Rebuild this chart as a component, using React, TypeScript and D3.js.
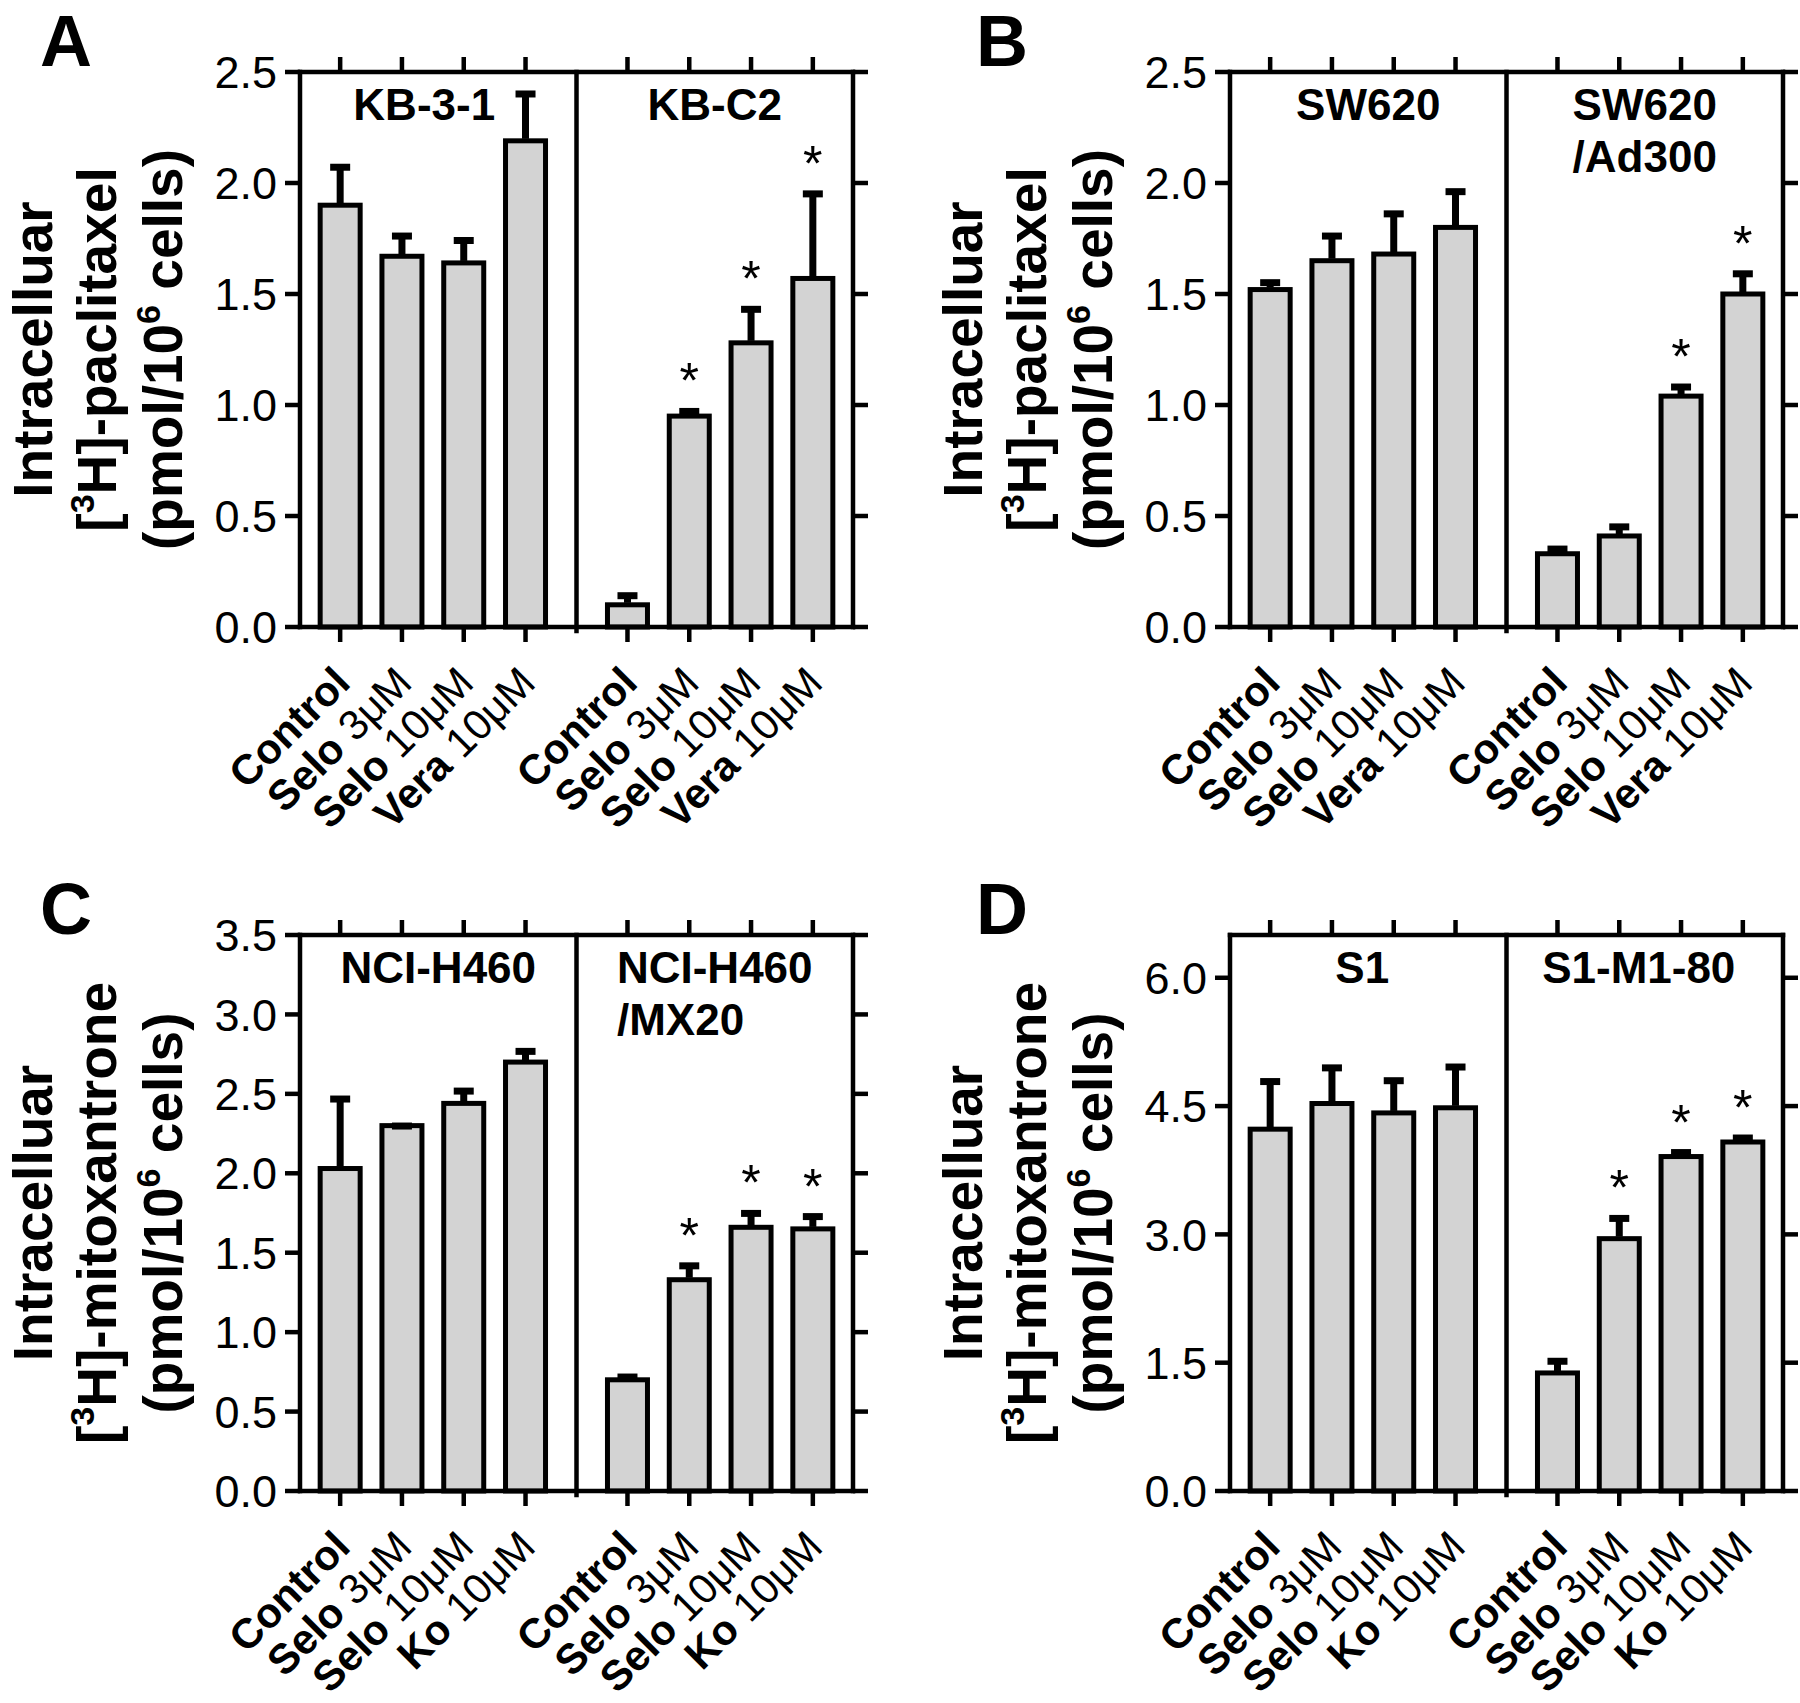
import React from "react";
import * as d3 from "d3";

const W = 1800;
const H = 1703;
const FONT = '"Liberation Sans", Arial, Helvetica, sans-serif';

// ---------- data ----------
const treatBoldAB = ["Control", "Selo", "Selo", "Vera"];
const treatBoldCD = ["Control", "Selo", "Selo", "Ko"];
const treatDose = ["", "3μM", "10μM", "10μM"];

const A_lines = [["KB-3-1"], ["KB-C2"]];
const A_mean1 = [1.9, 1.67, 1.64, 2.19];
const A_err1 = [0.18, 0.1, 0.11, 0.22];
const A_sig1 = [false, false, false, false];
const A_mean2 = [0.1, 0.95, 1.28, 1.57];
const A_err2 = [0.05, 0.03, 0.16, 0.39];
const A_sig2 = [false, true, true, true];

const B_lines = [["SW620"], ["SW620", "/Ad300"]];
const B_mean1 = [1.52, 1.65, 1.68, 1.8];
const B_err1 = [0.04, 0.12, 0.19, 0.17];
const B_sig1 = [false, false, false, false];
const B_mean2 = [0.33, 0.41, 1.04, 1.5];
const B_err2 = [0.03, 0.05, 0.05, 0.1];
const B_sig2 = [false, false, true, true];

const C_lines = [["NCI-H460"], ["NCI-H460", "/MX20"]];
const C_mean1 = [2.03, 2.3, 2.44, 2.7];
const C_err1 = [0.45, 0.01, 0.09, 0.08];
const C_sig1 = [false, false, false, false];
const C_mean2 = [0.7, 1.33, 1.66, 1.65];
const C_err2 = [0.03, 0.1, 0.1, 0.09];
const C_sig2 = [false, true, true, true];

const D_lines = [["S1"], ["S1-M1-80"]];
const D_mean1 = [4.23, 4.53, 4.42, 4.48];
const D_err1 = [0.58, 0.44, 0.4, 0.5];
const D_sig1 = [false, false, false, false];
const D_mean2 = [1.38, 2.95, 3.91, 4.08];
const D_err2 = [0.16, 0.26, 0.07, 0.07];
const D_sig2 = [false, true, true, true];

const ticksAB = [0, 0.5, 1.0, 1.5, 2.0, 2.5];
const ticksC = [0, 0.5, 1.0, 1.5, 2.0, 2.5, 3.0, 3.5];
const ticksD = [0, 1.5, 3.0, 4.5, 6.0];

// ---------- helpers ----------
let _ctx: CanvasRenderingContext2D | null = null;
function measure(text: string, size: number, bold: boolean) {
  if (!_ctx) _ctx = document.createElement("canvas").getContext("2d");
  if (!_ctx) return text.length * size * 0.6;
  _ctx.font = `${bold ? "bold " : ""}${size}px "Liberation Sans", Arial, sans-serif`;
  return _ctx.measureText(text).width;
}

type Group = { label: string[]; mean: number[]; err: number[]; sig: boolean[] };
type PanelCfg = {
  letter: string;
  lx: number;
  ly: number;
  x0: number;
  x1: number;
  yTop: number;
  yBot: number;
  domain: [number, number];
  ticks: number[];
  drug: string;
  treat: string[];
  labelShift: number[];
  groups: Group[];
};

const panels: PanelCfg[] = [
  {
    letter: "A", lx: 40, ly: 66, x0: 300, x1: 853, yTop: 72, yBot: 627,
    domain: [0, 2.5], ticks: ticksAB, drug: "paclitaxel", treat: treatBoldAB,
    labelShift: [-14, 0],
    groups: [
      { label: A_lines[0], mean: A_mean1, err: A_err1, sig: A_sig1 },
      { label: A_lines[1], mean: A_mean2, err: A_err2, sig: A_sig2 },
    ],
  },
  {
    letter: "B", lx: 976, ly: 66, x0: 1230, x1: 1783, yTop: 72, yBot: 627,
    domain: [0, 2.5], ticks: ticksAB, drug: "paclitaxel", treat: treatBoldAB,
    labelShift: [0, 0],
    groups: [
      { label: B_lines[0], mean: B_mean1, err: B_err1, sig: B_sig1 },
      { label: B_lines[1], mean: B_mean2, err: B_err2, sig: B_sig2 },
    ],
  },
  {
    letter: "C", lx: 40, ly: 934, x0: 300, x1: 853, yTop: 935, yBot: 1491,
    domain: [0, 3.5], ticks: ticksC, drug: "mitoxantrone", treat: treatBoldCD,
    labelShift: [0, 0],
    groups: [
      { label: C_lines[0], mean: C_mean1, err: C_err1, sig: C_sig1 },
      { label: C_lines[1], mean: C_mean2, err: C_err2, sig: C_sig2 },
    ],
  },
  {
    letter: "D", lx: 976, ly: 934, x0: 1230, x1: 1783, yTop: 935, yBot: 1491,
    domain: [0, 6.5], ticks: ticksD, drug: "mitoxantrone", treat: treatBoldCD,
    labelShift: [-6, -6],
    groups: [
      { label: D_lines[0], mean: D_mean1, err: D_err1, sig: D_sig1 },
      { label: D_lines[1], mean: D_mean2, err: D_err2, sig: D_sig2 },
    ],
  },
];

const SW = 4.5; // frame stroke
const TICK = 15;
const TICK_FS = 45;
const LABEL_FS = 42;
const TITLE_FS = 55;
const GROUP_FS = 44;
const BAR_W = 40;
const FILL = "#d3d3d3";

function Panel({ cfg }: { cfg: PanelCfg }) {
  const y = d3.scaleLinear().domain(cfg.domain).range([cfg.yBot, cfg.yTop]);
  const posIdx = [0, 1, 2, 3, 4.65, 5.65, 6.65, 7.65];
  const x = d3.scaleLinear().domain([-0.65, 8.3]).range([cfg.x0, cfg.x1]);
  const xDiv = x(3.825);
  const bars = cfg.groups.flatMap((g, gi) =>
    g.mean.map((m, i) => ({
      cx: x(posIdx[gi * 4 + i]),
      mean: m,
      err: g.err[i],
      sig: g.sig[i],
      bold: cfg.treat[i],
      dose: treatDose[i],
    }))
  );
  const groupCenters = [(cfg.x0 + xDiv) / 2, (xDiv + cfg.x1) / 2];
  const yMid = (cfg.yTop + cfg.yBot) / 2;
  const fmt = d3.format(".1f");
  const supSize = TITLE_FS * 0.62;

  return (
    <g>
      {/* panel letter */}
      <text x={cfg.lx} y={cfg.ly} fontSize={72} fontWeight="bold" fontFamily={FONT}>
        {cfg.letter}
      </text>

      {/* y-axis title */}
      <g fontFamily={FONT} fontWeight="bold" fontSize={TITLE_FS} textAnchor="middle">
        <text transform={`translate(${cfg.x0 - 248},${yMid}) rotate(-90)`}>Intracelluar</text>
        <text transform={`translate(${cfg.x0 - 184},${yMid}) rotate(-90)`}>
          <tspan>[</tspan>
          <tspan fontSize={supSize} dy={-22}>3</tspan>
          <tspan dy={22}>{"H]-" + cfg.drug}</tspan>
        </text>
        <text transform={`translate(${cfg.x0 - 118},${yMid}) rotate(-90)`}>
          <tspan>(pmol/10</tspan>
          <tspan fontSize={supSize} dy={-22}>6</tspan>
          <tspan dy={22}>{" cells)"}</tspan>
        </text>
      </g>

      {/* bars */}
      {bars.map((b, i) => (
        <rect
          key={"bar" + i}
          x={b.cx - BAR_W / 2}
          y={y(b.mean)}
          width={BAR_W}
          height={y(0) - y(b.mean)}
          fill={FILL}
          stroke="#000"
          strokeWidth={5}
        />
      ))}
      {/* error bars */}
      {bars.map((b, i) => (
        <g key={"err" + i} stroke="#000">
          <line x1={b.cx} x2={b.cx} y1={y(b.mean) - 2} y2={y(b.mean + b.err)} strokeWidth={7} />
          <line
            x1={b.cx - 10}
            x2={b.cx + 10}
            y1={y(b.mean + b.err) + 2}
            y2={y(b.mean + b.err) + 2}
            strokeWidth={7}
          />
        </g>
      ))}
      {/* significance stars */}
      {bars
        .filter((b) => b.sig)
        .map((b, i) => (
          <text
            key={"star" + i}
            x={b.cx}
            y={y(b.mean + b.err) - 38 + 27}
            fontSize={50}
            textAnchor="middle"
            fontFamily={FONT}
          >
            *
          </text>
        ))}

      {/* frame */}
      <g stroke="#000" strokeWidth={SW} fill="none" strokeLinecap="square">
        <line x1={cfg.x0} x2={cfg.x0} y1={cfg.yTop} y2={cfg.yBot} />
        <line x1={cfg.x1} x2={cfg.x1} y1={cfg.yTop} y2={cfg.yBot} />
        <line x1={cfg.x0} x2={cfg.x1} y1={cfg.yTop} y2={cfg.yTop} />
        <line x1={cfg.x0} x2={cfg.x1} y1={cfg.yBot} y2={cfg.yBot} />
        <line x1={xDiv} x2={xDiv} y1={cfg.yTop} y2={cfg.yBot + 4} />
      </g>

      {/* left & right ticks, top & bottom ticks */}
      <g stroke="#000" strokeWidth={SW}>
        {cfg.ticks.map((t) => (
          <g key={"t" + t}>
            <line x1={cfg.x0 - TICK} x2={cfg.x0} y1={y(t)} y2={y(t)} />
            <line x1={cfg.x1} x2={cfg.x1 + TICK} y1={y(t)} y2={y(t)} />
          </g>
        ))}
        {bars.map((b, i) => (
          <g key={"xt" + i}>
            <line x1={b.cx} x2={b.cx} y1={cfg.yTop - TICK} y2={cfg.yTop} />
            <line x1={b.cx} x2={b.cx} y1={cfg.yBot} y2={cfg.yBot + TICK} />
          </g>
        ))}
      </g>
      <g fontFamily={FONT} fontSize={TICK_FS} textAnchor="end">
        {cfg.ticks.map((t) => (
          <text key={"tl" + t} x={cfg.x0 - TICK - 8} y={y(t)} dy="0.36em">
            {fmt(t)}
          </text>
        ))}
      </g>

      {/* group labels */}
      <g fontFamily={FONT} fontSize={GROUP_FS} fontWeight="bold">
        {cfg.groups.map((g, gi) => {
          const w0 = measure(g.label[0], GROUP_FS, true);
          const sx = groupCenters[gi] - w0 / 2 + cfg.labelShift[gi];
          return g.label.map((line, li) => (
            <text key={"gl" + gi + li} x={sx} y={cfg.yTop + 48 + li * 52}>
              {line}
            </text>
          ));
        })}
      </g>

      {/* x labels */}
      <g fontFamily={FONT} fontSize={LABEL_FS} textAnchor="end">
        {bars.map((b, i) => (
          <text
            key={"xl" + i}
            transform={`translate(${b.cx + 12},${cfg.yBot + 58}) rotate(-45)`}
          >
            <tspan fontWeight="bold">{b.bold}</tspan>
            {b.dose ? <tspan>{" " + b.dose}</tspan> : null}
          </text>
        ))}
      </g>
    </g>
  );
}

export default function App() {
  return (
    <svg
      width={W}
      height={H}
      viewBox={`0 0 ${W} ${H}`}
      style={{ position: "absolute", left: 0, top: 0, background: "#fff" }}
    >
      <rect x={0} y={0} width={W} height={H} fill="#fff" />
      {panels.map((p) => (
        <Panel key={p.letter} cfg={p} />
      ))}
    </svg>
  );
}
